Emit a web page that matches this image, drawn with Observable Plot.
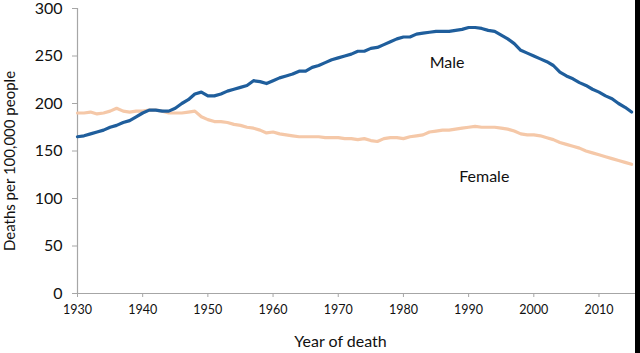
<!DOCTYPE html>
<html>
<head>
<meta charset="utf-8">
<script src="https://cdn.jsdelivr.net/npm/d3@7"></script>
<script src="https://cdn.jsdelivr.net/npm/@observablehq/plot@0.6"></script>
<style>
  html, body { margin: 0; padding: 0; background: #fff; }
  #wrap { position: relative; width: 640px; height: 353px; overflow: hidden; }
  #edge { position: absolute; left: 635px; top: 0; width: 5px; height: 353px; background: #000; }
</style>
</head>
<body>
<div id="wrap"><div id="edge"></div></div>
<script>
const years = d3.range(1930, 2016);
const male = [165,166,168,170,172,175,177,180,182,186,190,193,193,192,192,195,200,204,210,212,
  208,208,210,213,215,217,219,224,223,221,224,227,229,231,234,234,238,240,243,246,
  248,250,252,255,255,258,259,262,265,268,270,270,273,274,275,276,276,276,277,278,
  280,280,279,277,276,272,268,263,256,253,250,247,244,240,233,229,226,222,219,215,
  212,208,205,200,196,191];
const female = [190,190,191,189,190,192,195,192,191,192,192,193,193,192,190,190,190,191,192,186,
  183,181,181,180,178,177,175,174,172,169,170,168,167,166,165,165,165,165,164,164,
  164,163,163,162,163,161,160,163,164,164,163,165,166,167,170,171,172,172,173,174,
  175,176,175,175,175,174,173,171,168,167,167,166,164,162,159,157,155,153,150,148,
  146,144,142,140,138,136];
const xTicks = [1930,1940,1950,1960,1970,1980,1990,2000,2010];
const yTicks = [0,50,100,150,200,250,300];
const seriesNames = ["Male", "Female"];

const rows = [];
years.forEach((yr, i) => {
  rows.push({year: yr, value: male[i], sex: seriesNames[0]});
  rows.push({year: yr, value: female[i], sex: seriesNames[1]});
});

const font = "Lato, 'Open Sans', sans-serif";
const chart = Plot.plot({
  width: 640,
  height: 353,
  marginLeft: 77,
  marginRight: 5,
  marginTop: 8,
  marginBottom: 60,
  style: {fontFamily: font, background: "transparent", color: "#111", overflow: "visible"},
  x: {domain: [1930, 2015.6], label: null},
  y: {domain: [0, 300], label: null},
  color: {domain: seriesNames, range: ["#1f5e9c", "#f5c8a8"]},
  marks: [
    Plot.ruleY([0], {stroke: "#a6a6a6", strokeWidth: 1.2}),
    Plot.ruleX([1930], {y1: 0, y2: 300, stroke: "#a6a6a6", strokeWidth: 1.2}),
    Plot.axisX({ticks: xTicks, tickFormat: d => String(d), tickSize: 4, tickPadding: 8,
      stroke: "#a6a6a6", fontSize: 12.5, label: null}),
    Plot.axisY({ticks: yTicks, tickSize: 5, tickPadding: 10, stroke: "#a6a6a6",
      fontSize: 16, label: null}),
    Plot.line(rows.filter(d => d.sex === "Female"), {x: "year", y: "value", stroke: "sex", strokeWidth: 3.2, strokeLinejoin: "round"}),
    Plot.line(rows.filter(d => d.sex === "Male"), {x: "year", y: "value", stroke: "sex", strokeWidth: 3.2, strokeLinejoin: "round"}),
    Plot.text([seriesNames[0]], {x: 1986.7, y: 243, text: d => d, fontSize: 16, fill: "#111"}),
    Plot.text([seriesNames[1]], {x: 1992.4, y: 123, text: d => d, fontSize: 16, fill: "#111"}),
    Plot.text(["Year of death"], {frameAnchor: "bottom", dx: -16, dy: 53, text: d => d, fontSize: 16, fill: "#111"}),
    Plot.text(["Deaths per 100,000 people"], {frameAnchor: "left", textAnchor: "middle", dx: -67, dy: 10, rotate: -90, text: d => d, fontSize: 15, fill: "#111"})
  ]
});
document.getElementById("wrap").insertBefore(chart, document.getElementById("edge"));
</script>
</body>
</html>
